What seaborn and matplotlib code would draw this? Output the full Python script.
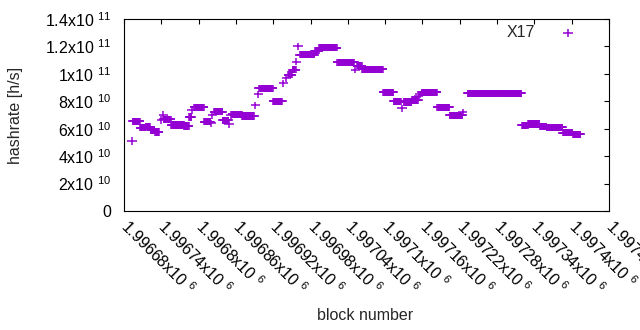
import numpy as np
import pandas as pd
import matplotlib
matplotlib.use("Agg")
import matplotlib.pyplot as plt
import seaborn as sns
from matplotlib.path import Path

# ---- data: runs of blocks with a constant hashrate (value in 1e10 h/s) ----
seg_start = [1996693, 1996694, 1996706, 1996715, 1996723, 1996730, 1996740, 1996743,
             1996744, 1996756, 1996777, 1996785, 1996789, 1996793, 1996809, 1996820,
             1996822, 1996825, 1996839, 1996849, 1996852, 1996854, 1996870, 1996891,
             1996896, 1996897, 1996920, 1996936, 1996941, 1996944, 1996951, 1996957,
             1996960, 1996963, 1996987, 1996994, 1997023, 1997052, 1997055, 1997063,
             1997097, 1997114, 1997127, 1997130, 1997143, 1997154, 1997156, 1997159,
             1997184, 1997204, 1997225, 1997233, 1997320, 1997330, 1997349, 1997360,
             1997386, 1997402]
seg_end = [1996693, 1996705, 1996714, 1996722, 1996729, 1996736, 1996740, 1996743,
           1996755, 1996776, 1996784, 1996788, 1996789, 1996808, 1996819, 1996820,
           1996822, 1996838, 1996848, 1996849, 1996852, 1996869, 1996889, 1996891,
           1996896, 1996919, 1996934, 1996936, 1996941, 1996950, 1996956, 1996957,
           1996960, 1996986, 1996993, 1997022, 1997050, 1997052, 1997062, 1997096,
           1997113, 1997125, 1997127, 1997142, 1997153, 1997154, 1997156, 1997183,
           1997203, 1997224, 1997225, 1997319, 1997329, 1997348, 1997359, 1997385,
           1997401, 1997414]
seg_value = [5.10, 6.55, 6.07, 6.15, 5.90, 5.76, 6.63, 7.00,
             6.70, 6.27, 6.20, 6.85, 7.36, 7.56, 6.50, 6.40,
             7.00, 7.24, 6.60, 6.34, 7.00, 7.05, 6.93, 7.70,
             8.50, 8.95, 8.00, 9.30, 9.70, 9.95, 10.30, 10.90,
             12.00, 11.40, 11.70, 11.90, 10.84, 10.30, 10.60, 10.33,
             8.65, 8.00, 7.50, 7.95, 8.10, 8.35, 8.50, 8.65,
             7.56, 6.98, 7.20, 8.58, 6.25, 6.35, 6.15, 6.10,
             5.70, 5.60]

series_label = "X17"

x_ticks = [1996680, 1996740, 1996800, 1996860, 1996920, 1996980, 1997040,
           1997100, 1997160, 1997220, 1997280, 1997340, 1997400, 1997460]
x_tick_labels = ["1.99668x10 $^{6}$", "1.99674x10 $^{6}$", "1.9968x10 $^{6}$",
                 "1.99686x10 $^{6}$", "1.99692x10 $^{6}$", "1.99698x10 $^{6}$",
                 "1.99704x10 $^{6}$", "1.9971x10 $^{6}$", "1.99716x10 $^{6}$",
                 "1.99722x10 $^{6}$", "1.99728x10 $^{6}$", "1.99734x10 $^{6}$",
                 "1.9974x10 $^{6}$", "1.99746x10 $^{6}$"]
y_ticks = [0, 2e10, 4e10, 6e10, 8e10, 1e11, 1.2e11, 1.4e11]
y_tick_labels = ["0", "2x10 $^{10}$", "4x10 $^{10}$", "6x10 $^{10}$", "8x10 $^{10}$",
                 "1x10 $^{11}$", "1.2x10 $^{11}$", "1.4x10 $^{11}$"]

# expand runs into one point per block
xs = np.concatenate([np.arange(s, e + 1) for s, e in zip(seg_start, seg_end)])
ys = np.concatenate([np.full(e - s + 1, v * 1e10)
                     for s, e, v in zip(seg_start, seg_end, seg_value)])
df = pd.DataFrame({"block": xs, "hashrate": ys})

sns.set_theme(style="white")
plt.rcParams["font.family"] = ["Liberation Sans", "DejaVu Sans"]
plt.rcParams["mathtext.fontset"] = "custom"
plt.rcParams["mathtext.rm"] = "Liberation Sans"
plt.rcParams["mathtext.default"] = "regular"

FS = 11.5
color = "#9400D3"

fig = plt.figure(figsize=(6.4, 3.3), dpi=100)
ax = fig.add_axes([124 / 640, 1 - 211 / 330, (609 - 124) / 640, (211 - 19) / 330])

plus = Path([(-1, 0), (1, 0), (0, -0.78), (0, 0.78)],
            [Path.MOVETO, Path.LINETO, Path.MOVETO, Path.LINETO])

sns.scatterplot(data=df, x="block", y="hashrate", ax=ax, marker=plus, s=44,
                facecolor="none", edgecolor=color, linewidth=1.1, label=series_label)

ax.set_xlim(1996680, 1997460)
ax.set_ylim(0, 1.4e11)
ax.set_xticks(x_ticks)
ax.set_xticklabels(x_tick_labels, rotation=-45, ha="left", va="center",
                   rotation_mode="anchor", fontsize=FS)
ax.set_yticks(y_ticks)
ax.set_yticklabels(y_tick_labels, fontsize=FS)
ax.tick_params(axis="both", direction="in", length=3.5, width=0.8,
               top=True, right=True, colors="black")
ax.tick_params(axis="x", pad=9)
ax.tick_params(axis="y", pad=9)
for sp in ax.spines.values():
    sp.set_color("black")
    sp.set_linewidth(0.8)

ax.set_xlabel("block number", fontsize=FS)
ax.xaxis.set_label_coords(0.497, -0.505)
ax.set_ylabel("hashrate [h/s]", fontsize=FS)
ax.yaxis.set_label_coords(-0.208, 0.5)

ax.legend(loc="upper right", bbox_to_anchor=(0.965, 0.984), frameon=False,
          markerfirst=False, fontsize=FS, handlelength=2.6, handletextpad=0.8,
          borderaxespad=0.0, borderpad=0.2)

fig.savefig("out.png", dpi=100)
